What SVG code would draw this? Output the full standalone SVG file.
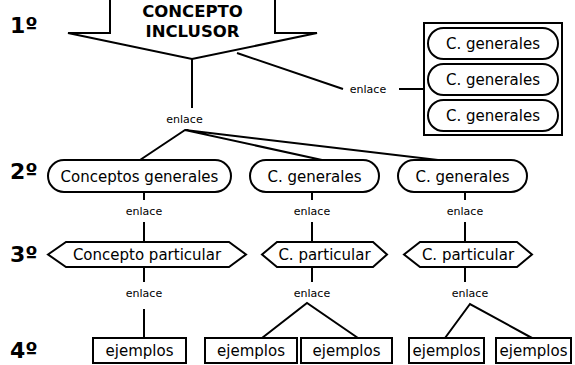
<svg xmlns="http://www.w3.org/2000/svg" width="575" height="365" viewBox="0 0 575 365">
  <style>
    .shape { fill: #fff; stroke: #000; stroke-width: 2; }
    .line { fill: none; stroke: #000; stroke-width: 2; }
    .txt { font-family: "DejaVu Sans", Verdana, sans-serif; font-size: 15px; fill: #000; text-anchor: middle; }
    .lnk { font-family: "DejaVu Sans", Verdana, sans-serif; font-size: 11px; fill: #000; text-anchor: middle; }
    .head { font-family: "DejaVu Sans", Verdana, sans-serif; font-size: 16.5px; font-weight: bold; fill: #000; text-anchor: middle; }
    .lvl { font-family: "DejaVu Sans", Verdana, sans-serif; font-size: 22px; font-weight: bold; fill: #000; }
  </style>
  <rect width="575" height="365" fill="#fff"/>

  <!-- level markers -->
  <g id="levels">
    <text class="lvl" x="10" y="33">1º</text>
    <text class="lvl" x="10" y="179">2º</text>
    <text class="lvl" x="10" y="262">3º</text>
    <text class="lvl" x="10" y="358">4º</text>
  </g>

  <!-- connectors and link words -->
  <g id="connectors">
    <path class="line" d="M192,59 V108"/>
    <path class="line" d="M237,53 L343,89"/>
    <path class="line" d="M399,89 H424"/>
    <path class="line" d="M140,160 L185,130 L322,160 M185,130 L438,160"/>
    <path class="line" d="M144,192 V200 M144,222 V242"/>
    <path class="line" d="M312,192 V200 M312,222 V242"/>
    <path class="line" d="M465,192 V200 M465,222 V242"/>
    <path class="line" d="M144,267 V282 M144,309 V338"/>
    <path class="line" d="M312,267 V282 M262,338 L307,303 L358,338"/>
    <path class="line" d="M465,267 V282 M445,338 L470,304 L532,338"/>
    <text class="lnk" x="184.5" y="123">enlace</text>
    <text class="lnk" x="368" y="93">enlace</text>
    <text class="lnk" x="144" y="215">enlace</text>
    <text class="lnk" x="312" y="215">enlace</text>
    <text class="lnk" x="465" y="215">enlace</text>
    <text class="lnk" x="144" y="297">enlace</text>
    <text class="lnk" x="312" y="297">enlace</text>
    <text class="lnk" x="470" y="297">enlace</text>
  </g>

  <!-- inclusive concept: block arrow -->
  <g id="inclusor">
    <polygon class="shape" points="110,-3 110,33 68,33 192,59 317,33 275,33 275,-3"/>
    <text class="head" x="192.5" y="17">CONCEPTO</text>
    <text class="head" x="192.5" y="37">INCLUSOR</text>
  </g>

  <!-- side group of general concepts -->
  <g id="side-group">
    <rect class="shape" x="424" y="23" width="138" height="112"/>
    <g id="side-1">
      <rect class="shape" x="428" y="28" width="130" height="31" rx="15.5"/>
      <text class="txt" x="493" y="49">C. generales</text>
    </g>
    <g id="side-2">
      <rect class="shape" x="428" y="64" width="130" height="31" rx="15.5"/>
      <text class="txt" x="493" y="85">C. generales</text>
    </g>
    <g id="side-3">
      <rect class="shape" x="428" y="100" width="130" height="31" rx="15.5"/>
      <text class="txt" x="493" y="121">C. generales</text>
    </g>
  </g>

  <!-- level 2: general concepts -->
  <g id="general-1">
    <rect class="shape" x="48" y="160" width="183" height="32" rx="16"/>
    <text class="txt" x="139.5" y="181.5">Conceptos generales</text>
  </g>
  <g id="general-2">
    <rect class="shape" x="250" y="160" width="129" height="32" rx="16"/>
    <text class="txt" x="314.5" y="181.5">C. generales</text>
  </g>
  <g id="general-3">
    <rect class="shape" x="398" y="160" width="129" height="32" rx="16"/>
    <text class="txt" x="462.5" y="181.5">C. generales</text>
  </g>

  <!-- level 3: particular concepts -->
  <g id="particular-1">
    <polygon class="shape" points="48,254.5 66,242 229,242 246,254.5 229,267 66,267"/>
    <text class="txt" x="147" y="260">Concepto particular</text>
  </g>
  <g id="particular-2">
    <polygon class="shape" points="262,254.5 277,242 373,242 387,254.5 373,267 277,267"/>
    <text class="txt" x="324.5" y="260">C. particular</text>
  </g>
  <g id="particular-3">
    <polygon class="shape" points="404,254.5 420,242 517,242 532,254.5 517,267 420,267"/>
    <text class="txt" x="468" y="260">C. particular</text>
  </g>

  <!-- level 4: examples -->
  <g id="example-1">
    <rect class="shape" x="93" y="338" width="93" height="25"/>
    <text class="txt" x="139.5" y="356">ejemplos</text>
  </g>
  <g id="example-2">
    <rect class="shape" x="205" y="338" width="92" height="25"/>
    <text class="txt" x="251" y="356">ejemplos</text>
  </g>
  <g id="example-3">
    <rect class="shape" x="301" y="338" width="91" height="25"/>
    <text class="txt" x="346.5" y="356">ejemplos</text>
  </g>
  <g id="example-4">
    <rect class="shape" x="409" y="338" width="75" height="25"/>
    <text class="txt" x="446.5" y="356">ejemplos</text>
  </g>
  <g id="example-5">
    <rect class="shape" x="496" y="338" width="75" height="25"/>
    <text class="txt" x="533.5" y="356">ejemplos</text>
  </g>
</svg>
